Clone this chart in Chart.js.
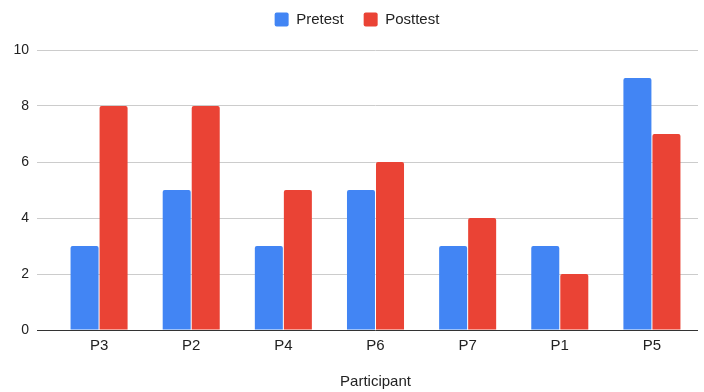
<!DOCTYPE html>
<html>
<head>
<meta charset="utf-8">
<script src="https://cdn.jsdelivr.net/npm/chart.js@4/dist/chart.umd.min.js"></script>
<style>
  html, body { margin: 0; padding: 0; background: #ffffff; }
  #wrap { width: 704px; height: 392px; }
</style>
</head>
<body>
<div id="wrap"><canvas id="c" width="704" height="392"></canvas></div>
<script>
// Participants in the order they are plotted
const participants = ['P3', 'P2', 'P4', 'P6', 'P7', 'P1', 'P5'];
// Scores for each participant
const pretest = [3, 5, 3, 5, 3, 3, 9];
const posttest = [8, 8, 5, 6, 4, 2, 7];
// Value axis ticks
const yTicks = [0, 2, 4, 6, 8, 10];

const FONT = "'Liberation Sans', Arial, Helvetica, sans-serif";
const TEXT = '#222222';

// Keeps the legend row a fixed height and nudges it into place
const legendPlacement = {
  id: 'legendPlacement',
  beforeInit(chart) {
    const legend = chart.legend;
    if (!legend) return;
    const fit = legend.fit;
    legend.fit = function () {
      fit.call(this);
      this.height = 50;
    };
  },
  afterLayout(chart) {
    const legend = chart.legend;
    if (legend) {
      legend.top = -8;
      legend.left += 8;
      legend.right += 8;
    }
  }
};

new Chart(document.getElementById('c'), {
  type: 'bar',
  data: {
    labels: participants,
    datasets: [
      {
        label: 'Pretest',
        data: pretest,
        backgroundColor: '#4285F4',
        borderWidth: 0,
        borderRadius: 2,
        borderSkipped: 'bottom',
        barPercentage: 0.965,
        categoryPercentage: 0.63
      },
      {
        label: 'Posttest',
        data: posttest,
        backgroundColor: '#EA4335',
        borderWidth: 0,
        borderRadius: 2,
        borderSkipped: 'bottom',
        barPercentage: 0.965,
        categoryPercentage: 0.63
      }
    ]
  },
  options: {
    responsive: false,
    animation: false,
    devicePixelRatio: 1,
    layout: { padding: { left: 0, right: 6, top: 0, bottom: 0 } },
    plugins: {
      tooltip: { enabled: false },
      legend: {
        display: true,
        position: 'top',
        align: 'center',
        labels: {
          boxWidth: 14,
          boxHeight: 14,
          useBorderRadius: true,
          borderRadius: 2,
          padding: 20,
          color: TEXT,
          font: { family: FONT, size: 15 }
        }
      }
    },
    scales: {
      x: {
        offset: true,
        grid: { display: false, drawTicks: false },
        border: { display: false },
        ticks: {
          color: TEXT,
          padding: 7,
          font: { family: FONT, size: 15 }
        },
        title: {
          display: true,
          text: 'Participant',
          color: TEXT,
          font: { family: FONT, size: 15 },
          padding: { top: 0, bottom: 1 }
        },
        afterFit(scale) { scale.height = 62; }
      },
      y: {
        min: 0,
        max: 10,
        afterBuildTicks(scale) {
          scale.ticks = yTicks.map(v => ({ value: v }));
        },
        grid: {
          color: ctx => (ctx.tick && ctx.tick.value === 0 ? '#333333' : '#cccccc'),
          lineWidth: 1,
          drawTicks: true,
          tickLength: 16
        },
        border: { display: false },
        ticks: {
          color: TEXT,
          padding: 8,
          font: { family: FONT, size: 14 }
        },
        afterFit(scale) { scale.width = 53; }
      }
    }
  },
  plugins: [legendPlacement]
});
</script>
</body>
</html>
